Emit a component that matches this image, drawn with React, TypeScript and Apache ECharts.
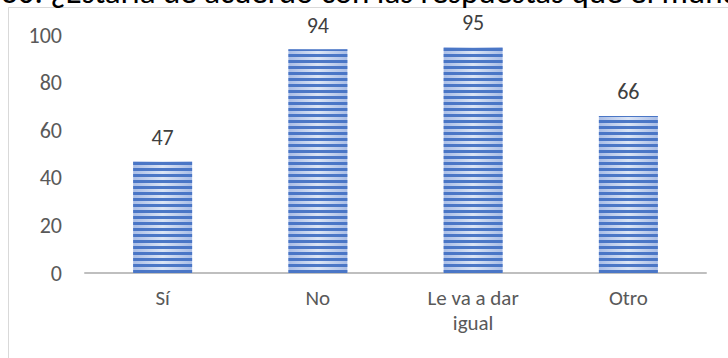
import React, { useEffect, useRef } from "react";
import * as echarts from "echarts";

const titleText = "30. ¿Estaría de acuerdo con las respuestas que el mundo le dé a su hijo?";
const categories = ["Sí", "No", "Le va a dar\nigual", "Otro"];
const values = [47, 94, 95, 66];
const yTicks = { min: 0, max: 100, interval: 20 };

const FONT = "Carlito, Calibri, Lato, sans-serif";

export default function App() {
  const ref = useRef<HTMLDivElement>(null);
  useEffect(() => {
    if (!ref.current) return;
    const chart = echarts.init(ref.current, undefined, { renderer: "svg" });
    chart.setOption({
      animation: false,
      backgroundColor: "#ffffff",
      textStyle: { fontFamily: FONT },
      graphic: [
        {
          type: "rect",
          shape: { x: 8.5, y: 7.5, width: 760, height: 400 },
          style: { fill: "none", stroke: "#d9d9d9", lineWidth: 1 },
          silent: true,
        },
        {
          type: "text",
          x: 1,
          y: -8,
          style: {
            text: titleText,
            font: "33px " + FONT,
            fill: "#000000",
            align: "left",
            verticalAlign: "middle",
          },
          silent: true,
        },
      ],
      grid: { left: 85, right: 22, top: 35, bottom: 85, containLabel: false },
      xAxis: {
        type: "category",
        data: categories,
        axisLine: { show: true, lineStyle: { color: "#bfbfbf", width: 2 } },
        axisTick: { show: false },
        axisLabel: {
          color: "#595959",
          fontSize: 21,
          fontFamily: FONT,
          margin: 12,
          lineHeight: 25,
          interval: 0,
        },
      },
      yAxis: {
        type: "value",
        min: yTicks.min,
        max: yTicks.max,
        interval: yTicks.interval,
        axisLine: { show: false },
        axisTick: { show: false },
        splitLine: { show: false },
        axisLabel: {
          color: "#595959",
          fontSize: 22,
          fontFamily: FONT,
          margin: 23,
        },
      },
      series: [
        {
          type: "bar",
          data: values,
          barWidth: "38%",
          itemStyle: {
            color: new echarts.graphic.LinearGradient(0, 0, 1, 0, [
              { offset: 0, color: "#a9bde6" },
              { offset: 0.5, color: "#dce5f5" },
              { offset: 1, color: "#a9bde6" },
            ]),
            decal: {
              symbol: "rect",
              symbolSize: 1,
              color: "rgba(68,114,196,0.95)",
              dashArrayX: [1, 0],
              dashArrayY: [2.5, 3],
              rotation: 0,
            },
          },
          label: {
            show: true,
            position: "top",
            distance: 13,
            color: "#404040",
            fontSize: 22,
            fontFamily: FONT,
          },
        },
      ],
    });
    return () => chart.dispose();
  }, []);
  return (
    <div
      ref={ref}
      style={{ position: "fixed", left: 0, top: 0, width: 728, height: 358 }}
    />
  );
}
